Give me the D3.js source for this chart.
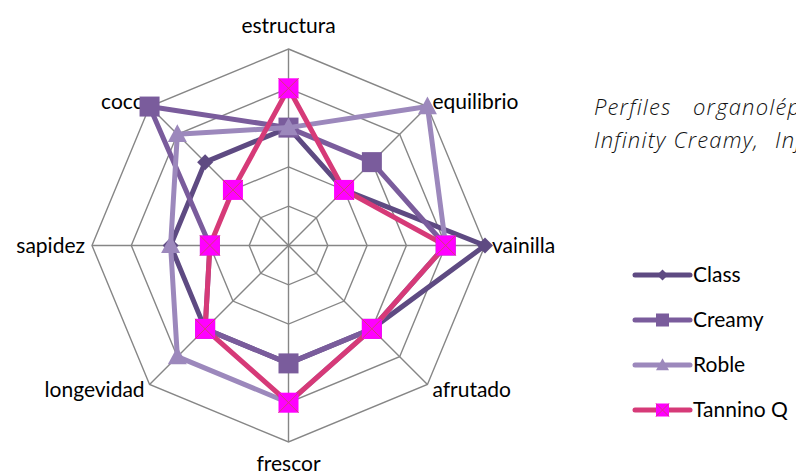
<!DOCTYPE html>
<html>
<head>
<meta charset="utf-8">
<script src="https://cdn.jsdelivr.net/npm/d3@7"></script>
<style>
  body { margin: 0; background: #fff; }
  svg { display: block; }
</style>
</head>
<body>
<div id="chart"></div>
<script>
const categories = ['estructura', 'equilibrio', 'vainilla', 'afrutado', 'frescor', 'longevidad', 'sapidez', 'coco'];
const seriesNames = ['Class', 'Creamy', 'Roble', 'Tannino Q'];
const classValues = [3, 2, 5, 3, 3, 3, 3, 3];
const creamyValues = [3, 3, 4, 3, 3, 3, 2, 5];
const robleValues = [3, 5, 4, 3, 4, 4, 3, 4];
const tanninoValues = [4, 2, 4, 3, 4, 3, 2, 2];
const ringLevels = [1, 2, 3, 4, 5];

const width = 796, height = 474;
const cx = 288.5, cy = 245.5, radius = 196.5;
const gridColor = '#868686';
const labelFont = 'Lato, "Open Sans", sans-serif';

const series = [
  {name: seriesNames[0], values: classValues, color: '#5E4A82', marker: 'diamond'},
  {name: seriesNames[1], values: creamyValues, color: '#7A5C9C', marker: 'square'},
  {name: seriesNames[2], values: robleValues, color: '#9C88BC', marker: 'triangle'},
  {name: seriesNames[3], values: tanninoValues, color: '#D63A78', marker: 'xsquare'}
];

const svg = d3.select('#chart').append('svg')
  .attr('width', width)
  .attr('height', height);

const rScale = d3.scaleLinear().domain([0, 5]).range([0, radius]);
const angle = d3.scaleLinear().domain([0, categories.length]).range([0, 2 * Math.PI]);

const g = svg.append('g').attr('transform', `translate(${cx},${cy})`);

// grid rings
const ringLine = d3.lineRadial()
  .angle((d, i) => angle(i))
  .radius(d => rScale(d))
  .curve(d3.curveLinearClosed);

g.selectAll('.ring')
  .data(ringLevels)
  .join('path')
  .attr('class', 'ring')
  .attr('d', lvl => ringLine(categories.map(() => lvl)))
  .attr('fill', 'none')
  .attr('stroke', gridColor)
  .attr('stroke-width', 1.4);

// spokes
g.selectAll('.spoke')
  .data(categories)
  .join('line')
  .attr('class', 'spoke')
  .attr('x1', 0).attr('y1', 0)
  .attr('x2', (d, i) => rScale(5) * Math.sin(angle(i)))
  .attr('y2', (d, i) => -rScale(5) * Math.cos(angle(i)))
  .attr('stroke', gridColor)
  .attr('stroke-width', 1.4);

// axis labels
g.selectAll('.cat-label')
  .data(categories)
  .join('text')
  .attr('class', 'cat-label')
  .attr('x', (d, i) => (radius + 7) * Math.sin(angle(i)))
  .attr('y', (d, i) => {
    const c = Math.cos(angle(i));
    let y = -(radius + 7) * c;
    if (c > 0.9) y -= 16;
    if (c < -0.9) y += 15;
    return y;
  })
  .attr('dy', '0.35em')
  .attr('text-anchor', (d, i) => {
    const s = Math.sin(angle(i));
    return s > 0.1 ? 'start' : (s < -0.1 ? 'end' : 'middle');
  })
  .attr('font-family', labelFont)
  .attr('font-size', 21)
  .attr('fill', '#000')
  .text(d => d);

function drawMarker(sel, type, color, size) {
  const h = size / 2;
  if (type === 'diamond') {
    sel.append('path')
      .attr('d', `M0,${-h}L${h},0L0,${h}L${-h},0Z`)
      .attr('fill', color);
  } else if (type === 'square') {
    sel.append('rect')
      .attr('x', -h).attr('y', -h)
      .attr('width', size).attr('height', size)
      .attr('fill', color);
  } else if (type === 'triangle') {
    sel.append('path')
      .attr('d', `M0,${-h * 1.05}L${h},${h * 0.8}L${-h},${h * 0.8}Z`)
      .attr('fill', color);
  } else {
    sel.append('rect')
      .attr('x', -h).attr('y', -h)
      .attr('width', size).attr('height', size)
      .attr('fill', '#FF00FF');
    sel.append('path')
      .attr('d', `M${-h},${-h}L${h},${h}M${h},${-h}L${-h},${h}`)
      .attr('stroke', color)
      .attr('stroke-width', 1);
  }
}

const markerSize = {diamond: 16, square: 20, triangle: 19, xsquare: 20};

const valueLine = d3.lineRadial()
  .angle((d, i) => angle(i))
  .radius(d => rScale(d))
  .curve(d3.curveLinearClosed);

series.forEach(s => {
  const sg = g.append('g');
  sg.append('path')
    .attr('d', valueLine(s.values))
    .attr('fill', 'none')
    .attr('stroke', s.color)
    .attr('stroke-width', 5)
    .attr('stroke-linejoin', 'round');

  s.values.forEach((v, i) => {
    const mg = sg.append('g')
      .attr('transform', `translate(${rScale(v) * Math.sin(angle(i))},${-rScale(v) * Math.cos(angle(i))})`);
    drawMarker(mg, s.marker, s.color, markerSize[s.marker]);
  });
});

// legend
const legendX = 635, legendY = 275, legendStep = 45;
const legend = svg.append('g');
series.forEach((s, i) => {
  const lg = legend.append('g').attr('transform', `translate(${legendX},${legendY + i * legendStep})`);
  lg.append('line')
    .attr('x1', 0).attr('x2', 55)
    .attr('y1', 0).attr('y2', 0)
    .attr('stroke', s.color)
    .attr('stroke-width', 5)
    .attr('stroke-linecap', 'round');
  const mg = lg.append('g').attr('transform', 'translate(27.5,0)');
  drawMarker(mg, s.marker, s.color, s.marker === 'diamond' ? 11 : 13);
  lg.append('text')
    .attr('x', 58)
    .attr('dy', '0.35em')
    .attr('font-family', labelFont)
    .attr('font-size', 21)
    .attr('fill', '#000')
    .text(s.name);
});

// side caption (cut by the right edge, as in the source)
const caption = svg.append('text')
  .attr('font-family', '"Open Sans", sans-serif')
  .attr('font-style', 'italic')
  .attr('font-weight', 300)
  .attr('font-size', 22)
  .attr('letter-spacing', 1.2)
  .attr('fill', '#111');
caption.append('tspan').attr('x', 594).attr('y', 115).text('Perfiles');
caption.append('tspan').attr('x', 693).attr('y', 115).text('organolépticos de Infinity Class,');
caption.append('tspan').attr('x', 594).attr('y', 148).text('Infinity Creamy,');
caption.append('tspan').attr('x', 775).attr('y', 148).text('Infinity Roble y Tannino Q');
</script>
</body>
</html>
